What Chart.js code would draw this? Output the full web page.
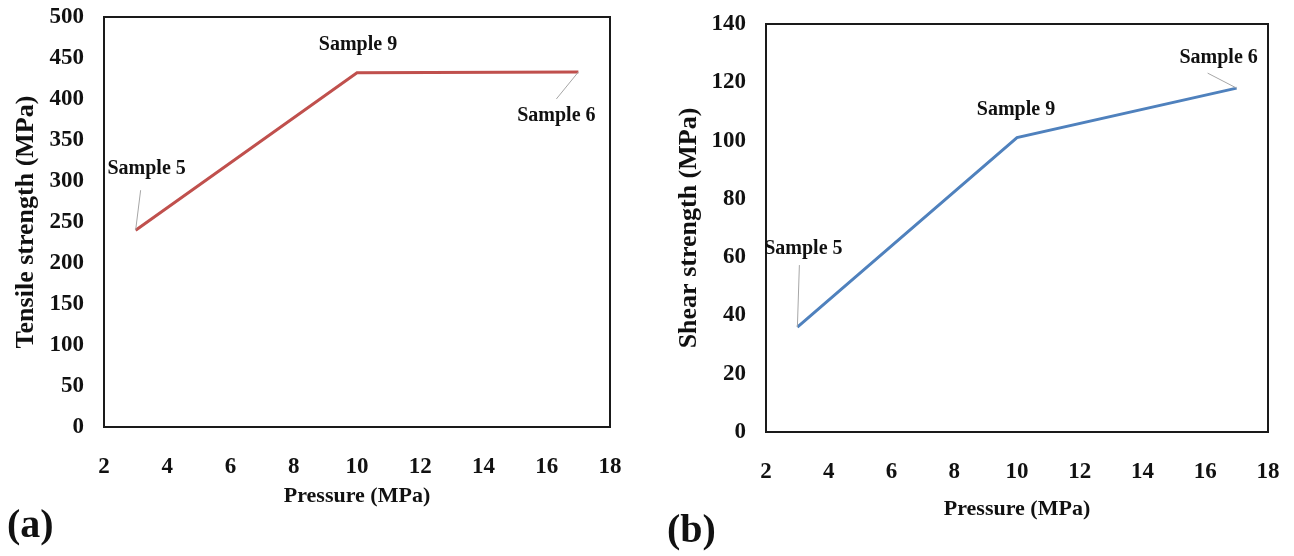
<!DOCTYPE html>
<html>
<head>
<meta charset="utf-8">
<script src="https://cdn.jsdelivr.net/npm/chart.js@4.4.1/dist/chart.umd.min.js"></script>
<style>
  html, body { margin: 0; padding: 0; background: #fff; }
  body { width: 1294px; height: 556px; position: relative; overflow: hidden; }
  .panel { position: absolute; top: 0; width: 647px; height: 556px; }
  .tag { position: absolute; font: bold 40px "Liberation Serif", serif; color: #111; }
</style>
</head>
<body>
<div class="panel" style="left:0"><canvas id="chartA" width="647" height="556"></canvas></div>
<div class="panel" style="left:647px"><canvas id="chartB" width="647" height="556"></canvas></div>
<div class="tag" style="left:7px; top:500px">(a)</div>
<div class="tag" style="left:667px; top:505px">(b)</div>
<script>
// 数据
const pressure = [3, 10, 17];
const sampleNames = ['Sample 5', 'Sample 9', 'Sample 6'];
const tensileStrength = [240, 432, 433];
const shearStrength = [36, 101, 118];

const xTicks = [2, 4, 6, 8, 10, 12, 14, 16, 18];
const tensileTicks = [0, 50, 100, 150, 200, 250, 300, 350, 400, 450, 500];
const shearTicks = [0, 20, 40, 60, 80, 100, 120, 140];

const serif = '"Liberation Serif", "Times New Roman", serif';

// 标注插件：画边框、样品标签和引线
const sampleLabels = {
  id: 'sampleLabels',
  afterDatasetsDraw(chart, args, opts) {
    const ctx = chart.ctx;
    const area = chart.chartArea;
    const meta = chart.getDatasetMeta(0);
    ctx.save();
    // 外框
    ctx.strokeStyle = '#1a1a1a';
    ctx.lineWidth = 2;
    ctx.strokeRect(area.left, area.top, area.right - area.left, area.bottom - area.top);
    // 标签
    ctx.font = 'bold 20px ' + serif;
    ctx.fillStyle = '#111';
    ctx.textAlign = 'center';
    ctx.textBaseline = 'middle';
    meta.data.forEach((pt, i) => {
      const o = opts.offsets[i];
      if (o.lead) {
        ctx.strokeStyle = '#a6a6a6';
        ctx.lineWidth = 1;
        ctx.beginPath();
        ctx.moveTo(pt.x, pt.y);
        ctx.lineTo(pt.x + o.lead[0], pt.y + o.lead[1]);
        ctx.stroke();
      }
      ctx.fillText(sampleNames[i], pt.x + o.dx, pt.y + o.dy);
    });
    ctx.restore();
  }
};

// 去掉刻度标签带来的额外内边距，由 layout.padding 控制
function noPad(s) {
  s.paddingTop = 0;
  s.paddingBottom = 0;
  s.paddingLeft = 0;
  s.paddingRight = 0;
}

function makeChart(id, values, yTicks, color, yTitle, lay, offsets) {
  const yMax = yTicks[yTicks.length - 1];
  return new Chart(document.getElementById(id), {
    type: 'line',
    data: {
      datasets: [{
        data: pressure.map((x, i) => ({ x: x, y: values[i] })),
        borderColor: color,
        borderWidth: 3,
        pointRadius: 0,
        tension: 0,
        fill: false
      }]
    },
    options: {
      responsive: false,
      animation: false,
      layout: { padding: lay.padding },
      plugins: {
        legend: { display: false },
        tooltip: { enabled: false },
        sampleLabels: { offsets: offsets }
      },
      scales: {
        x: {
          type: 'linear',
          min: 2,
          max: 18,
          grid: { display: false, drawTicks: false },
          border: { display: false },
          afterBuildTicks: s => { s.ticks = xTicks.map(v => ({ value: v })); },
          afterFit: s => { s.height = lay.xHeight; noPad(s); },
          ticks: {
            padding: 26,
            color: '#111',
            maxRotation: 0,
            font: { family: serif, size: 23, weight: 'bold' }
          },
          title: {
            display: true,
            text: 'Pressure (MPa)',
            color: '#111',
            padding: 0,
            font: { family: serif, size: 22, weight: 'bold' }
          }
        },
        y: {
          type: 'linear',
          min: 0,
          max: yMax,
          grid: { display: false, drawTicks: false },
          border: { display: false },
          afterBuildTicks: s => { s.ticks = yTicks.map(v => ({ value: v })); },
          afterFit: s => { s.width = lay.yWidth; noPad(s); },
          ticks: {
            padding: 20,
            color: '#111',
            font: { family: serif, size: 23, weight: 'bold' }
          },
          title: {
            display: true,
            text: yTitle,
            color: '#111',
            padding: 0,
            font: { family: serif, size: 26, weight: 'bold' }
          }
        }
      }
    },
    plugins: [sampleLabels]
  });
}

makeChart('chartA', tensileStrength, tensileTicks, '#c0504d', 'Tensile strength (MPa)',
  { padding: { left: 11, top: 17, right: 37, bottom: 46 }, yWidth: 93, xHeight: 83 },
  [
    { dx: 11, dy: -61, lead: [5, -40] },
    { dx: 1, dy: -28, lead: null },
    { dx: -22, dy: 44, lead: [-22, 27] }
  ]);

makeChart('chartB', shearStrength, shearTicks, '#4f81bd', 'Shear strength (MPa)',
  { padding: { left: 27, top: 24, right: 26, bottom: 33 }, yWidth: 92, xHeight: 91 },
  [
    { dx: 6, dy: -78, lead: [2, -62] },
    { dx: -1, dy: -28, lead: null },
    { dx: -18, dy: -30, lead: [-29, -15] }
  ]);
</script>
</body>
</html>
